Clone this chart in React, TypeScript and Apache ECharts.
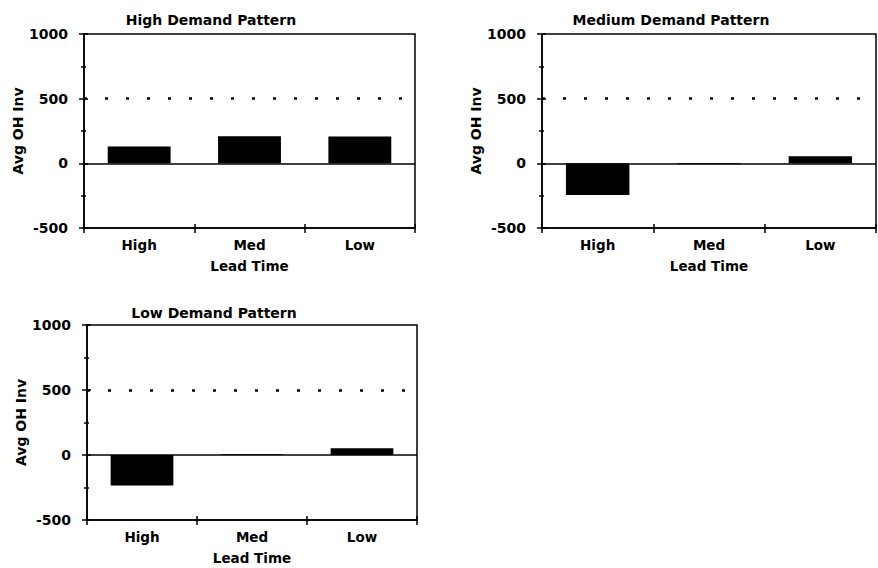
import React, { useEffect, useRef } from "react";
import * as echarts from "echarts";

const categories = ["High", "Med", "Low"];
const highDemandValues = [130, 210, 208];
const mediumDemandValues = [-245, -8, 55];
const lowDemandValues = [-235, 5, 52];
const panelTitles = ["High Demand Pattern", "Medium Demand Pattern", "Low Demand Pattern"];
const yAxisName = "Avg OH Inv";
const xAxisName = "Lead Time";
const yMin = -500;
const yMax = 1000;
const yInterval = 500;
const referenceLine = 500;

const FONT = "DejaVu Sans";

export default function App() {
  const ref = useRef<HTMLDivElement>(null);

  useEffect(() => {
    if (!ref.current) return;
    const chart = echarts.init(ref.current, null, { renderer: "svg" });

    const grids = [
      { left: 84, top: 34, width: 331, height: 194 },
      { left: 542, top: 34, width: 334, height: 194 },
      { left: 87, top: 325, width: 330, height: 195 },
    ];
    const titlePos = [
      { x: 211, y: 20 },
      { x: 671, y: 20 },
      { x: 214, y: 313 },
    ];
    const datasets = [highDemandValues, mediumDemandValues, lowDemandValues];

    const xAxes: any[] = [];
    const yAxes: any[] = [];
    const series: any[] = [];

    grids.forEach((g, i) => {
      xAxes.push({
        type: "category",
        gridIndex: i,
        data: categories,
        position: "bottom",
        axisLine: { show: true, onZero: false, lineStyle: { color: "#000", width: 1.5 } },
        axisTick: { show: true, length: 5, lineStyle: { color: "#000", width: 1.5 } },
        axisLabel: { color: "#000", fontFamily: FONT, fontWeight: "bold", fontSize: 13.5, margin: 10 },
        name: xAxisName,
        nameLocation: "middle",
        nameGap: 31,
        nameTextStyle: { color: "#000", fontFamily: FONT, fontWeight: "bold", fontSize: 13.5 },
      });
      xAxes.push({
        type: "category",
        gridIndex: i,
        data: categories,
        position: "bottom",
        axisLine: { show: false, onZero: false },
        axisTick: { show: true, inside: true, length: 4, lineStyle: { color: "#000", width: 1.5 } },
        axisLabel: { show: false },
      });
      yAxes.push({
        type: "value",
        gridIndex: i,
        min: yMin,
        max: yMax,
        interval: yInterval,
        position: "left",
        axisLine: { show: true, lineStyle: { color: "#000", width: 1.5 } },
        axisTick: { show: true, length: 5, lineStyle: { color: "#000", width: 1.5 } },
        minorTick: { show: true, splitNumber: 2, length: 3, lineStyle: { color: "#000", width: 1.5 } },
        splitLine: { show: false },
        axisLabel: {
          color: "#000",
          fontFamily: FONT,
          fontWeight: "bold",
          fontSize: 14,
          margin: 16,
          formatter: (v: number) => String(v),
        },
        name: yAxisName,
        nameLocation: "middle",
        nameGap: 59,
        nameTextStyle: { color: "#000", fontFamily: FONT, fontWeight: "bold", fontSize: 14 },
      });
      yAxes.push({
        type: "value",
        gridIndex: i,
        min: yMin,
        max: yMax,
        interval: yInterval,
        position: "left",
        axisLine: { show: false },
        axisTick: { show: true, inside: true, length: 4, lineStyle: { color: "#000", width: 1.5 } },
        minorTick: { show: true, splitNumber: 2, length: 2, lineStyle: { color: "#000", width: 1.5 } },
        splitLine: { show: false },
        axisLabel: { show: false },
      });
      series.push({
        type: "bar",
        xAxisIndex: i * 2,
        yAxisIndex: i * 2,
        data: datasets[i],
        barWidth: "57%",
        itemStyle: { color: "#000" },
        markLine: {
          silent: true,
          symbol: "none",
          label: { show: false },
          data: [
            { yAxis: 0, lineStyle: { color: "#000", width: 1.5, type: "solid" } },
            { yAxis: referenceLine, lineStyle: { color: "#000", width: 2.5, type: [3, 18] } },
          ],
        },
      });
    });

    chart.setOption({
      animation: false,
      backgroundColor: "#fff",
      grid: grids.map((g) => ({
        ...g,
        containLabel: false,
        show: true,
        borderColor: "#000",
        borderWidth: 1.5,
      })),
      xAxis: xAxes,
      yAxis: yAxes,
      series,
      graphic: panelTitles.map((t, i) => ({
        type: "text",
        x: titlePos[i].x,
        y: titlePos[i].y,
        style: {
          text: t,
          fill: "#000",
          font: `bold 14px "${FONT}"`,
          textAlign: "center",
          textVerticalAlign: "middle",
        },
      })),
    });

    return () => chart.dispose();
  }, []);

  return (
    <div
      ref={ref}
      style={{ position: "fixed", left: 0, top: 0, width: 878, height: 568, background: "#fff" }}
    />
  );
}
